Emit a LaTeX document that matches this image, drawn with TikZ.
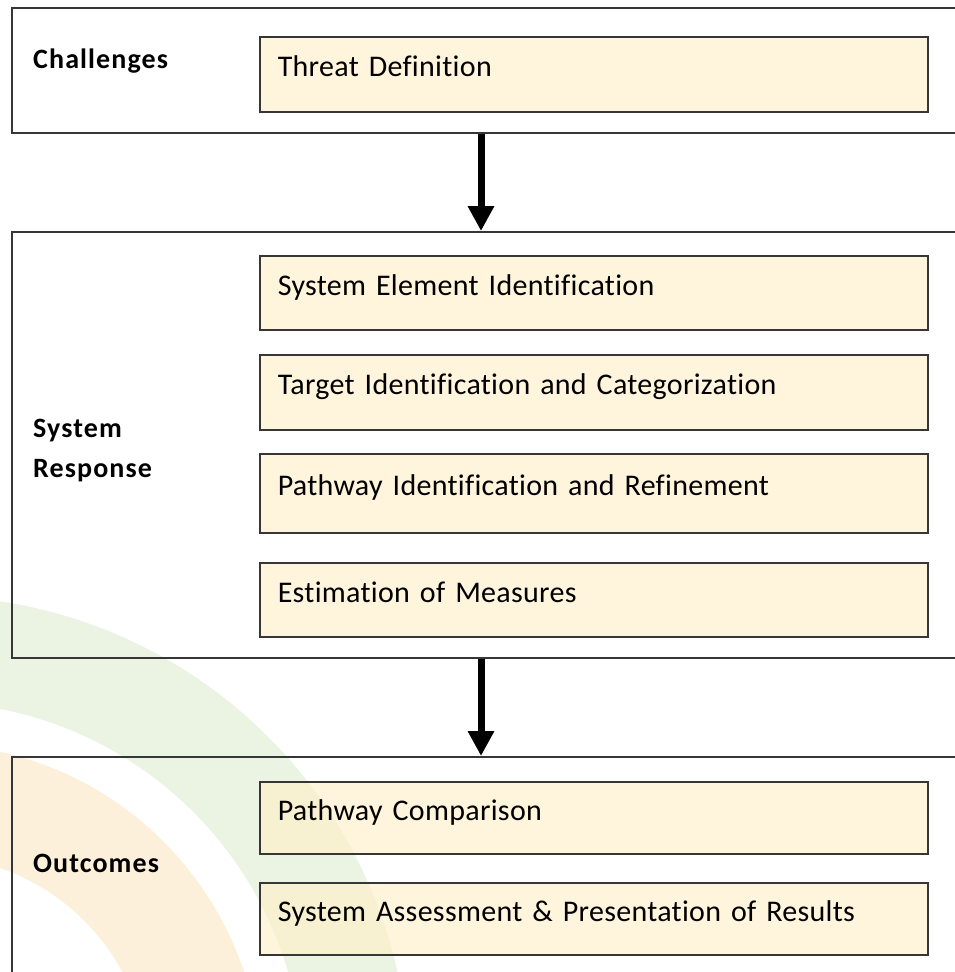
\documentclass[tikz,border=0pt]{standalone}
\usepackage{fontspec}
\setmainfont{Carlito}[Ligatures=CommonOff, WordSpace=0.45, LetterSpace=1]
\newfontfamily\stagefont{Carlito}[Ligatures=CommonOff, LetterSpace=4]
\usetikzlibrary{positioning, arrows.meta}
\definecolor{stepfill}{HTML}{FFEEC5}
\definecolor{edgegray}{HTML}{363636}
\definecolor{markgreen}{HTML}{EBF3E3}
\definecolor{markorange}{HTML}{FDF0DA}
\tikzset{
    x=1pt, y=-1pt, % image coordinates, y grows downwards
    stagebox/.style={draw=edgegray, line width=1.8pt, anchor=north west, minimum width=949pt, inner sep=0pt}, % the three big frames
    stepbox/.style={draw=edgegray, line width=1.6pt, fill=stepfill, fill opacity=0.6, text opacity=1,
        anchor=north west, minimum width=668pt, text width=632pt, inner xsep=18pt, inner ysep=0pt,
        align=left, text height=20pt, text depth=15pt, font=\fontsize{30}{36}\selectfont}, % the cream step boxes
    stagelabel/.style={anchor=base west, inner sep=0pt, align=left, font=\stagefont\fontsize{28}{40}\selectfont\bfseries}, % bold names on the left
    flow/.style={line width=7pt, -{Triangle[width=25pt, length=25pt]}}, % thick arrows between stages
}
\begin{document}
\begin{tikzpicture}
    \clip (0,0) rectangle (955,972);
    \fill[white] (0,0) rectangle (955,972);
    % faint watermark arcs
    \fill[markgreen, even odd rule] (-72,1077) circle[radius=481pt] (-72,1077) circle[radius=375pt];
    \fill[markorange, even odd rule] (-72,1077) circle[radius=333pt] (-72,1077) circle[radius=221pt];

    % stages
    \node[stagebox, minimum height=125pt] (chal) at (11,7) {};
    \node[stagebox, minimum height=426pt] (resp) at (11,231) {};
    \node[stagebox, minimum height=240pt] (outc) at (11,756) {};

    \node[stagelabel] (challbl) at (33,68) {Challenges};
    \node[stagelabel] (resplbl) at (33,477) {System\\Response};
    \node[stagelabel] (outclbl) at (33,872) {Outcomes};

    % steps
    \node[stepbox, minimum height=75pt] (threat) at (259,36) {Threat Definition};
    \node[stepbox, minimum height=74pt] (element) at (259,255) {System Element Identification};
    \node[stepbox, minimum height=75pt] (target) at (259,354) {Target Identification and Categorization};
    \node[stepbox, minimum height=79pt] (pathid) at (259,453) {Pathway Identification and Refinement};
    \node[stepbox, minimum height=74pt] (measures) at (259,562) {Estimation of Measures};
    \node[stepbox, minimum height=72pt] (compare) at (259,781) {Pathway Comparison};
    \node[stepbox, minimum height=72pt] (assess) at (259,882) {System Assessment \& Presentation of Results};

    % arrows
    \coordinate (flowx) at (481,0);
    \draw[flow] (chal.south -| flowx) -- (resp.north -| flowx);
    \draw[flow] (resp.south -| flowx) -- (outc.north -| flowx);
\end{tikzpicture}
\end{document}
